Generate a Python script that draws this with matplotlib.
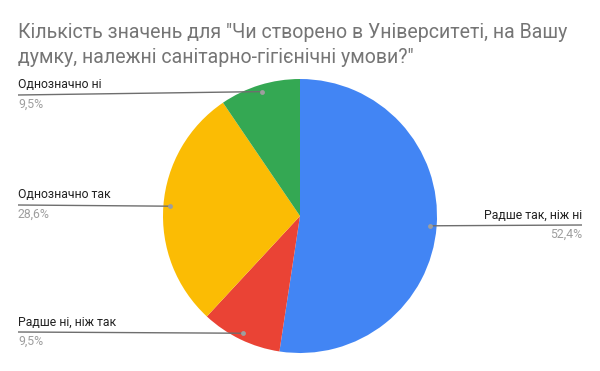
import matplotlib
matplotlib.use("Agg")
import matplotlib.pyplot as plt
import numpy as np

categories = ["Радше так, ніж ні", "Радше ні, ніж так", "Однозначно так", "Однозначно ні"]
values = [52.4, 9.5, 28.6, 9.5]
pct_labels = ["52,4%", "9,5%", "28,6%", "9,5%"]
colors = ["#4285f4", "#ea4335", "#fbbc04", "#34a853"]
title_lines = ['Кількість значень для "Чи створено в Університеті, на Вашу',
               'думку, належні санітарно-гігієнічні умови?"']

plt.rcParams['font.family'] = ['Roboto', 'DejaVu Sans']

W, H = 600, 371
fig = plt.figure(figsize=(6, 3.71), dpi=100)
ax = fig.add_axes([0, 0, 1, 1])

cx, cy, r = 300, H - 216, 137
wedges, _ = ax.pie(values, colors=colors, startangle=90, counterclock=False,
                   center=(cx, cy), radius=r, frame=True,
                   wedgeprops=dict(linewidth=0))
ax.set_xlim(0, W)
ax.set_ylim(0, H)
ax.set_aspect("equal")
ax.set_axis_off()

for line, by in zip(title_lines, [38, 63]):
    fig.text(18 / W, 1 - by / H, line, fontsize=14.05, color="#757575",
             ha="left", va="baseline")

# label layout: (text x, line y, align)
layout = {
    0: (582, 225, "right"),
    1: (18, 332, "left"),
    2: (18, 205, "left"),
    3: (18, 95, "left"),
}
for i, w in enumerate(wedges):
    ang = np.deg2rad((w.theta1 + w.theta2) / 2)
    dx, dy = cx + 0.95 * r * np.cos(ang), cy + 0.95 * r * np.sin(ang)
    tx, ly, al = layout[i]
    ly_d = H - ly
    ax.plot([tx, dx], [ly_d, dy], color="#6e6e6e", lw=1.0, solid_capstyle="butt")
    ax.plot([dx], [dy], "o", color="#9e9e9e", ms=3.5, mec="none")
    ax.text(tx, ly_d + 3.5, categories[i], ha=al, va="bottom", fontsize=8.8, color="#222222")
    ax.text(tx, ly_d - 3, pct_labels[i], ha=al, va="top", fontsize=8.8, color="#9e9e9e")

fig.savefig("out.png", dpi=100)
